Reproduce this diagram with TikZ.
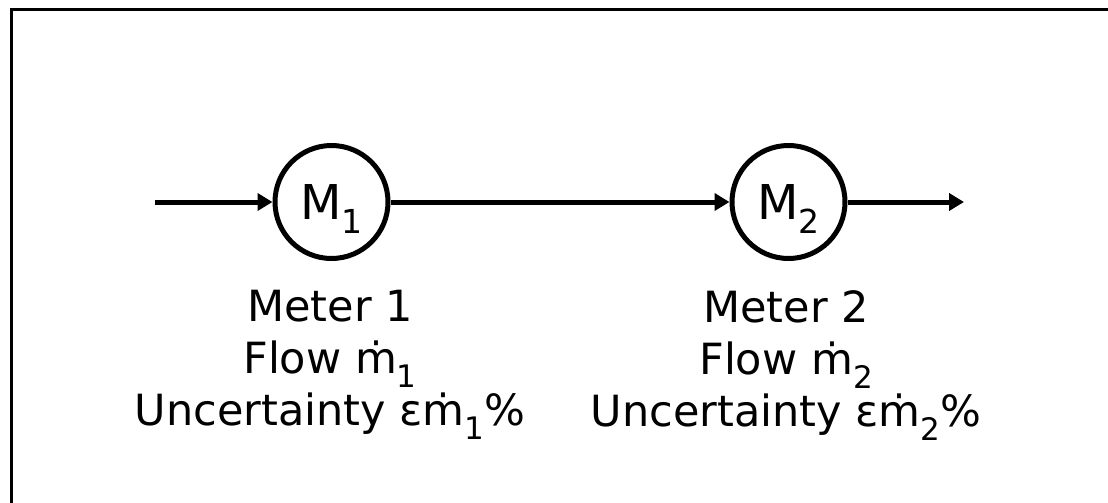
\documentclass[tikz,border=0pt]{standalone}
\usepackage{fontspec}
\setmainfont{DejaVu Sans}
\usetikzlibrary{arrows.meta}
\newcommand\lowsub[2]{\raisebox{-#1}[0pt][0pt]{#2}}
\tikzset{
  meter/.style={circle, draw, line width=5pt, minimum size=113pt, inner sep=0pt,
    font=\fontsize{48}{48}\selectfont},
  flow/.style={line width=5pt, -{Triangle[length=15pt,width=17pt]}},
  info/.style={align=center, anchor=north, inner sep=0pt,
    font=\fontsize{43}{52}\selectfont},
  frame/.style={line width=3pt}
}
\begin{document}
\begin{tikzpicture}[x=1pt,y=-1pt]
\useasboundingbox (0,0) rectangle (1108,503);
\draw[frame] (11.5,503) -- (11.5,9.5) -- (1108,9.5);
\coordinate (in) at (155,202);
\coordinate (out) at (964,202);
\node[meter] (m1) at (331.5,202) {M\lowsub{14pt}{\fontsize{33}{33}\selectfont 1}};
\node[meter] (m2) at (788.5,202) {M\lowsub{14pt}{\fontsize{33}{33}\selectfont 2}};
\draw[flow] (in) -- (m1.west);
\draw[flow] (m1.east) -- (m2.west);
\draw[flow] (m2.east) -- (out);
\node[info] (l1) at (330,290) {Meter 1\\Flow ṁ\lowsub{14pt}{\fontsize{31}{31}\selectfont 1}\\Uncertainty εṁ\lowsub{14pt}{\fontsize{31}{31}\selectfont 1}\%};
\node[info] (l2) at (786,290) {Meter 2\\Flow ṁ\lowsub{14pt}{\fontsize{31}{31}\selectfont 2}\\Uncertainty εṁ\lowsub{14pt}{\fontsize{31}{31}\selectfont 2}\%};
\end{tikzpicture}
\end{document}
